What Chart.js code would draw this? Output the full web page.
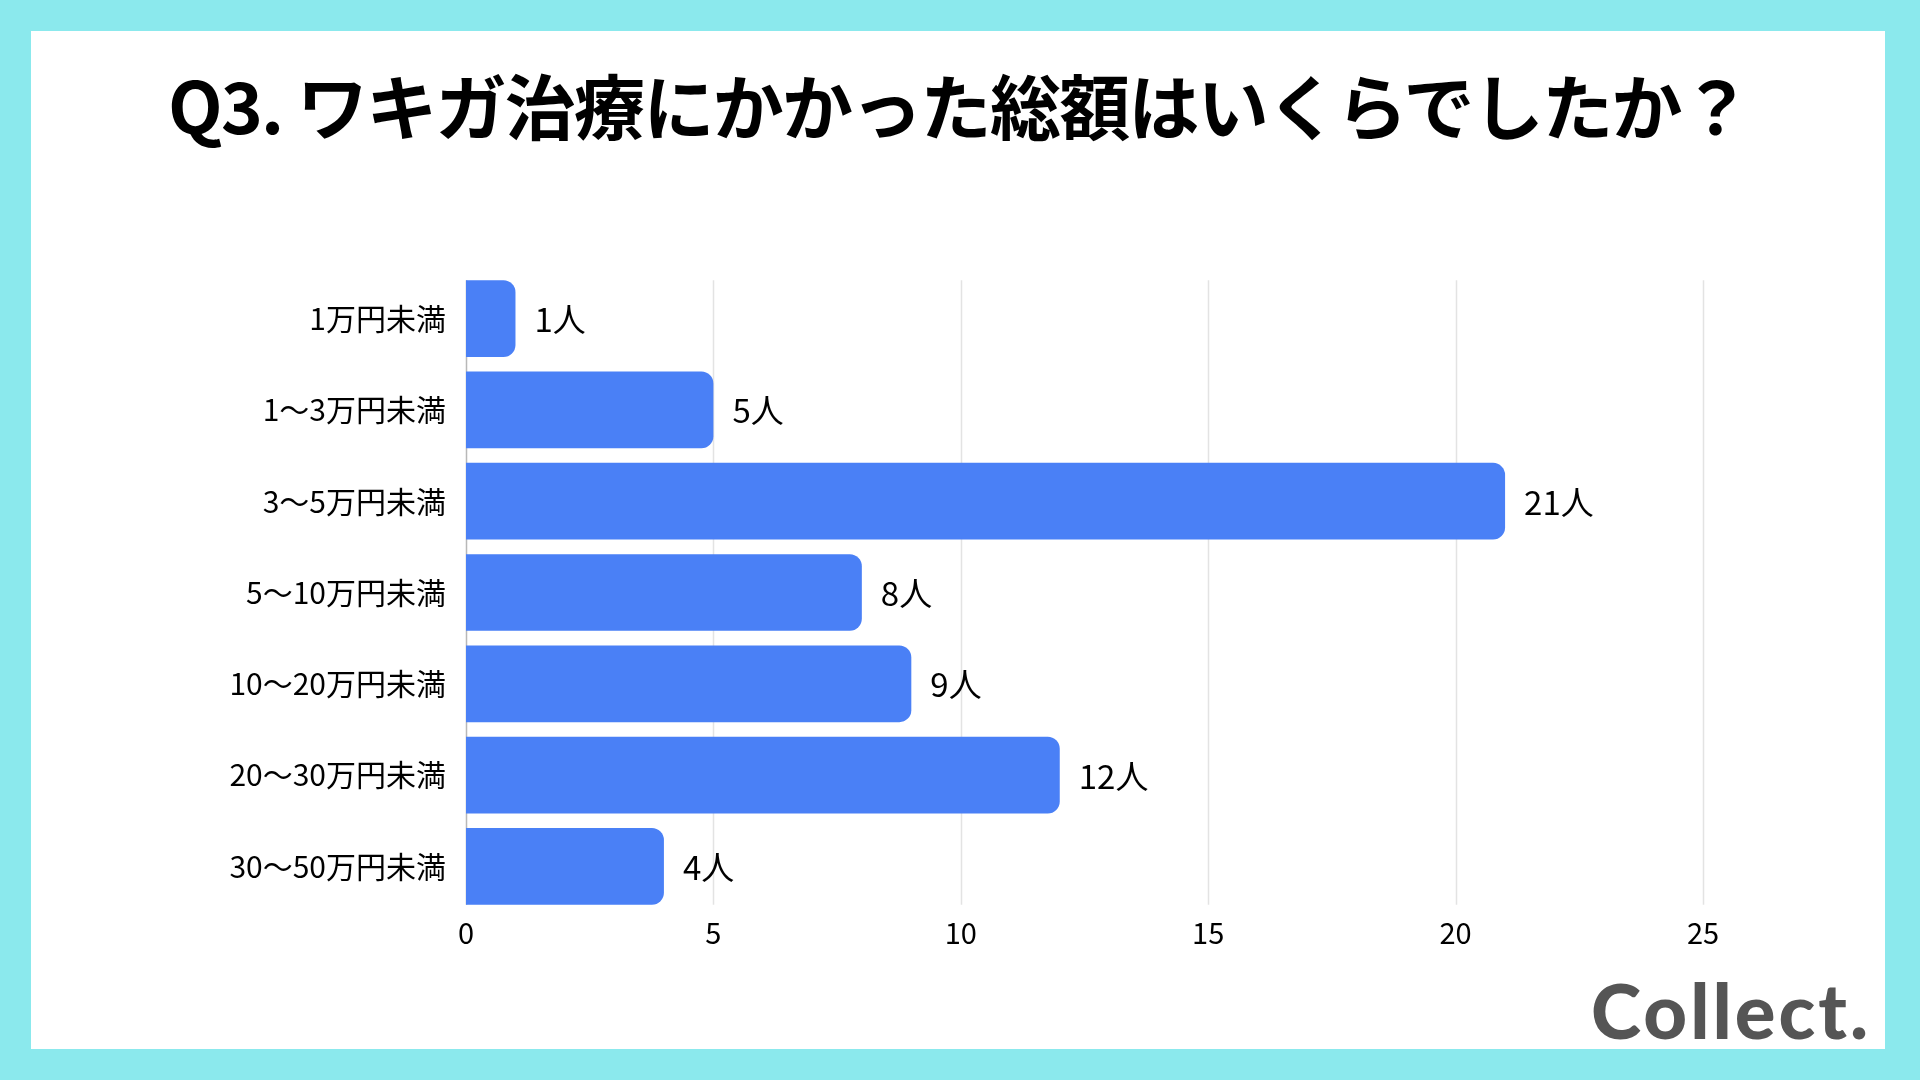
<!DOCTYPE html>
<html>
<head>
<meta charset="utf-8">
<script src="https://cdn.jsdelivr.net/npm/chart.js@4/dist/chart.umd.min.js"></script>
<style>
  html, body { margin: 0; padding: 0; }
  body { width: 1920px; height: 1080px; background: #8be9ed; position: relative; overflow: hidden;
         font-family: "Noto Sans CJK JP", "Noto Sans", sans-serif; }
  #panel { position: absolute; left: 31px; top: 31px; width: 1854px; height: 1018px; background: #fff; }
  #title { position: absolute; left: 4px; width: 1910px; top: 68px; text-align: center; font-size: 71px;
           font-weight: 700; line-height: 1; letter-spacing: -1.7px; color: #000; }
  #logo { position: absolute; left: 1591px; top: 972px; font-family: Lato, sans-serif; font-weight: 900;
          font-size: 76px; line-height: 1; color: #555; letter-spacing: 3px; }
  #wrap { position: absolute; left: 0; top: 0; width: 1920px; height: 1080px; }
</style>
</head>
<body>
<div id="panel"></div>
<div id="title">Q3. ワキガ治療にかかった総額はいくらでしたか？</div>
<div id="logo">Collect.</div>
<div id="wrap"><canvas id="chart"></canvas></div>
<script>
const categories = ['1万円未満', '1～3万円未満', '3～5万円未満', '5～10万円未満', '10～20万円未満', '20～30万円未満', '30～50万円未満'];
const counts = [1, 5, 21, 8, 9, 12, 4];
const unit = '人';
const xTicks = [0, 5, 10, 15, 20, 25];

const FONT = '"Noto Sans CJK JP", "Noto Sans", sans-serif';

// grid lines and axis line only as tall as the bars themselves
const shortGrid = {
    id: 'shortGrid',
    beforeDatasetsDraw(chart) {
        const ctx = chart.ctx;
        const bars = chart.getDatasetMeta(0).data;
        const top = bars[0].y - bars[0].height / 2;
        const bottom = bars[bars.length - 1].y + bars[bars.length - 1].height / 2;
        const x = chart.scales.x;
        ctx.save();
        xTicks.forEach(v => {
            const px = Math.round(x.getPixelForValue(v)) + 0.5;
            ctx.strokeStyle = v === 0 ? '#b8b8b8' : '#e3e3e3';
            ctx.lineWidth = 1.5;
            ctx.beginPath();
            ctx.moveTo(px, top);
            ctx.lineTo(px, bottom);
            ctx.stroke();
        });
        ctx.restore();
    }
};

// value labels to the right of each bar
const barLabels = {
    id: 'barLabels',
    afterDatasetsDraw(chart) {
        const ctx = chart.ctx;
        const meta = chart.getDatasetMeta(0);
        ctx.save();
        ctx.font = '33px ' + FONT;
        ctx.fillStyle = '#000';
        ctx.textAlign = 'left';
        ctx.textBaseline = 'middle';
        meta.data.forEach((bar, i) => {
            ctx.fillText(counts[i] + unit, bar.x + 19, bar.y + 1);
        });
        ctx.restore();
    }
};

const ctx = document.getElementById('chart').getContext('2d');
new Chart(ctx, {
    type: 'bar',
    data: {
        labels: categories,
        datasets: [{
            data: counts,
            backgroundColor: '#4a80f6',
            borderRadius: 12,
            borderSkipped: 'start',
            categoryPercentage: 1,
            barPercentage: 0.84
        }]
    },
    options: {
        indexAxis: 'y',
        responsive: true,
        maintainAspectRatio: false,
        animation: false,
        layout: { padding: { left: 100, right: 217, top: 273, bottom: 118 } },
        plugins: {
            legend: { display: false },
            tooltip: { enabled: false }
        },
        scales: {
            x: {
                min: 0,
                max: 25,
                afterBuildTicks: scale => { scale.ticks = xTicks.map(v => ({ value: v })); },
                afterFit: scale => { scale.height = 50; },
                grid: { display: false },
                border: { display: false },
                ticks: { color: '#000', padding: -4, font: { family: FONT, size: 29 } }
            },
            y: {
                afterFit: scale => { scale.width = 366; },
                grid: { display: false },
                border: { display: false },
                ticks: { color: '#000', padding: 12, font: { family: FONT, size: 30 } }
            }
        }
    },
    plugins: [shortGrid, barLabels]
});
</script>
</body>
</html>
